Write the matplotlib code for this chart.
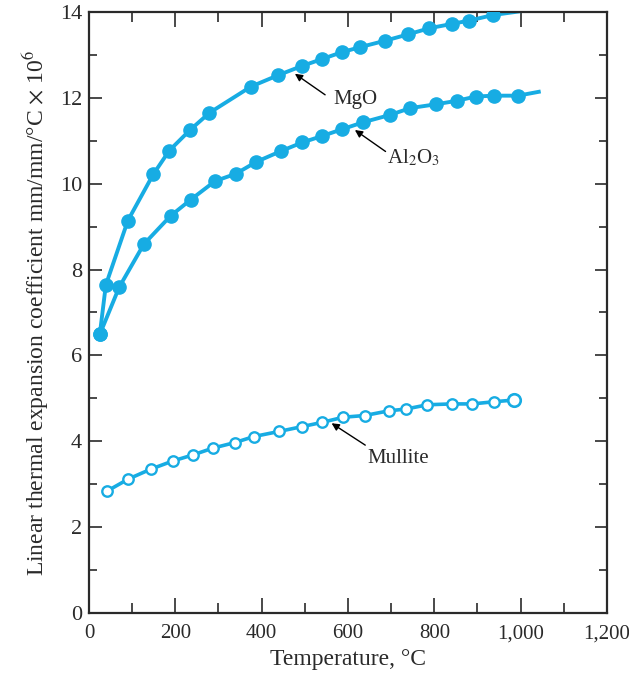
import matplotlib
matplotlib.use("Agg")
import matplotlib.pyplot as plt
from matplotlib.ticker import MultipleLocator, FuncFormatter

plt.rcParams['font.family'] = ['Liberation Serif', 'DejaVu Serif']
plt.rcParams['mathtext.fontset'] = 'stix'

# MgO (filled markers)
mgo_t = [25, 39, 90, 149, 186, 234, 279, 375, 439, 493, 539, 585, 628, 686, 740, 788, 840, 881, 937]
mgo_a = [6.49, 7.64, 9.14, 10.22, 10.77, 11.25, 11.65, 12.26, 12.53, 12.74, 12.90, 13.06, 13.18,
         13.33, 13.48, 13.62, 13.72, 13.80, 13.93]
mgo_end_t, mgo_end_a = 1002, 14.02

# Al2O3 (filled markers)
al_t = [25, 70, 127, 189, 236, 292, 340, 388, 445, 494, 540, 587, 635, 697, 744, 804, 852, 896, 938, 994]
al_a = [6.49, 7.59, 8.59, 9.25, 9.63, 10.06, 10.23, 10.51, 10.76, 10.96, 11.11, 11.27, 11.43,
        11.60, 11.76, 11.85, 11.93, 12.03, 12.05, 12.05]
al_end_t, al_end_a = 1042, 12.14

# Mullite (open markers)
mul_t = [42, 91, 143, 194, 240, 287, 338, 382, 441, 493, 540, 589, 639, 695, 734, 784, 840, 888, 938, 984]
mul_a = [2.84, 3.12, 3.35, 3.54, 3.68, 3.84, 3.97, 4.11, 4.23, 4.34, 4.44, 4.56, 4.60,
         4.71, 4.75, 4.85, 4.87, 4.87, 4.92, 4.96]

blue = '#17ACE3'
ink = '#2a2a2a'

fig = plt.figure(figsize=(6.29, 6.83), dpi=100)
ax = fig.add_axes([0.1415, 0.1025, 0.8235, 0.88])

ax.plot(mgo_t + [mgo_end_t], mgo_a + [mgo_end_a], color=blue, lw=2.8, zorder=2,
        solid_joinstyle='round')
ax.plot(mgo_t, mgo_a, 'o', color=blue, ms=9.5, zorder=3)
ax.plot(al_t + [al_end_t], al_a + [al_end_a], color=blue, lw=2.8, zorder=2,
        solid_joinstyle='round')
ax.plot(al_t, al_a, 'o', color=blue, ms=9.5, zorder=3)
ax.plot(mul_t, mul_a, color=blue, lw=2.6, zorder=2, solid_joinstyle='round')
ax.plot(mul_t[:-1], mul_a[:-1], 'o', mfc='white', mec=blue, mew=1.7, ms=7.5, zorder=3)
ax.plot(mul_t[-1:], mul_a[-1:], 'o', mfc='white', mec=blue, mew=1.9, ms=9, zorder=3)

arrow = dict(arrowstyle='-|>', color='black', lw=1.0, shrinkA=0, shrinkB=0, mutation_scale=11)
ax.annotate('', xy=(477, 12.56), xytext=(547, 12.07), arrowprops=arrow)
ax.text(565, 11.95, 'MgO', fontsize=15, ha='left', va='center', color=ink)
ax.annotate('', xy=(616, 11.25), xytext=(687, 10.75), arrowprops=arrow)
ax.text(690, 10.6, r'Al$_2$O$_3$', fontsize=15, ha='left', va='center', color=ink)
ax.annotate('', xy=(562, 4.42), xytext=(640, 3.91), arrowprops=arrow)
ax.text(646, 3.61, 'Mullite', fontsize=15, ha='left', va='center', color=ink)

ax.set_xlim(0, 1200)
ax.set_ylim(0, 14)
ax.xaxis.set_major_locator(MultipleLocator(200))
ax.xaxis.set_minor_locator(MultipleLocator(100))
ax.yaxis.set_major_locator(MultipleLocator(2))
ax.yaxis.set_minor_locator(MultipleLocator(1))
ax.xaxis.set_major_formatter(FuncFormatter(lambda v, p: f"{v:,.0f}"))

ax.tick_params(axis='x', which='major', direction='in', length=11, width=1.2, top=True,
               labelsize=15, colors=ink, pad=8)
ax.tick_params(axis='x', which='minor', direction='in', length=7, width=1.2, top=True, colors=ink)
ax.tick_params(axis='y', which='major', direction='in', length=9, width=1.2, right=True,
               labelsize=16, colors=ink, pad=5)
ax.tick_params(axis='y', which='minor', direction='in', length=6, width=1.2, right=True, colors=ink)
for s in ax.spines.values():
    s.set_linewidth(1.6)
    s.set_color(ink)

ax.set_xlabel('Temperature, °C', fontsize=17, color=ink, labelpad=4)
ax.set_ylabel(r'Linear thermal expansion coefficient mm/mm/°C $\times$ 10$^6$', fontsize=17,
              color=ink, labelpad=6)

fig.savefig('out.png', dpi=100)
